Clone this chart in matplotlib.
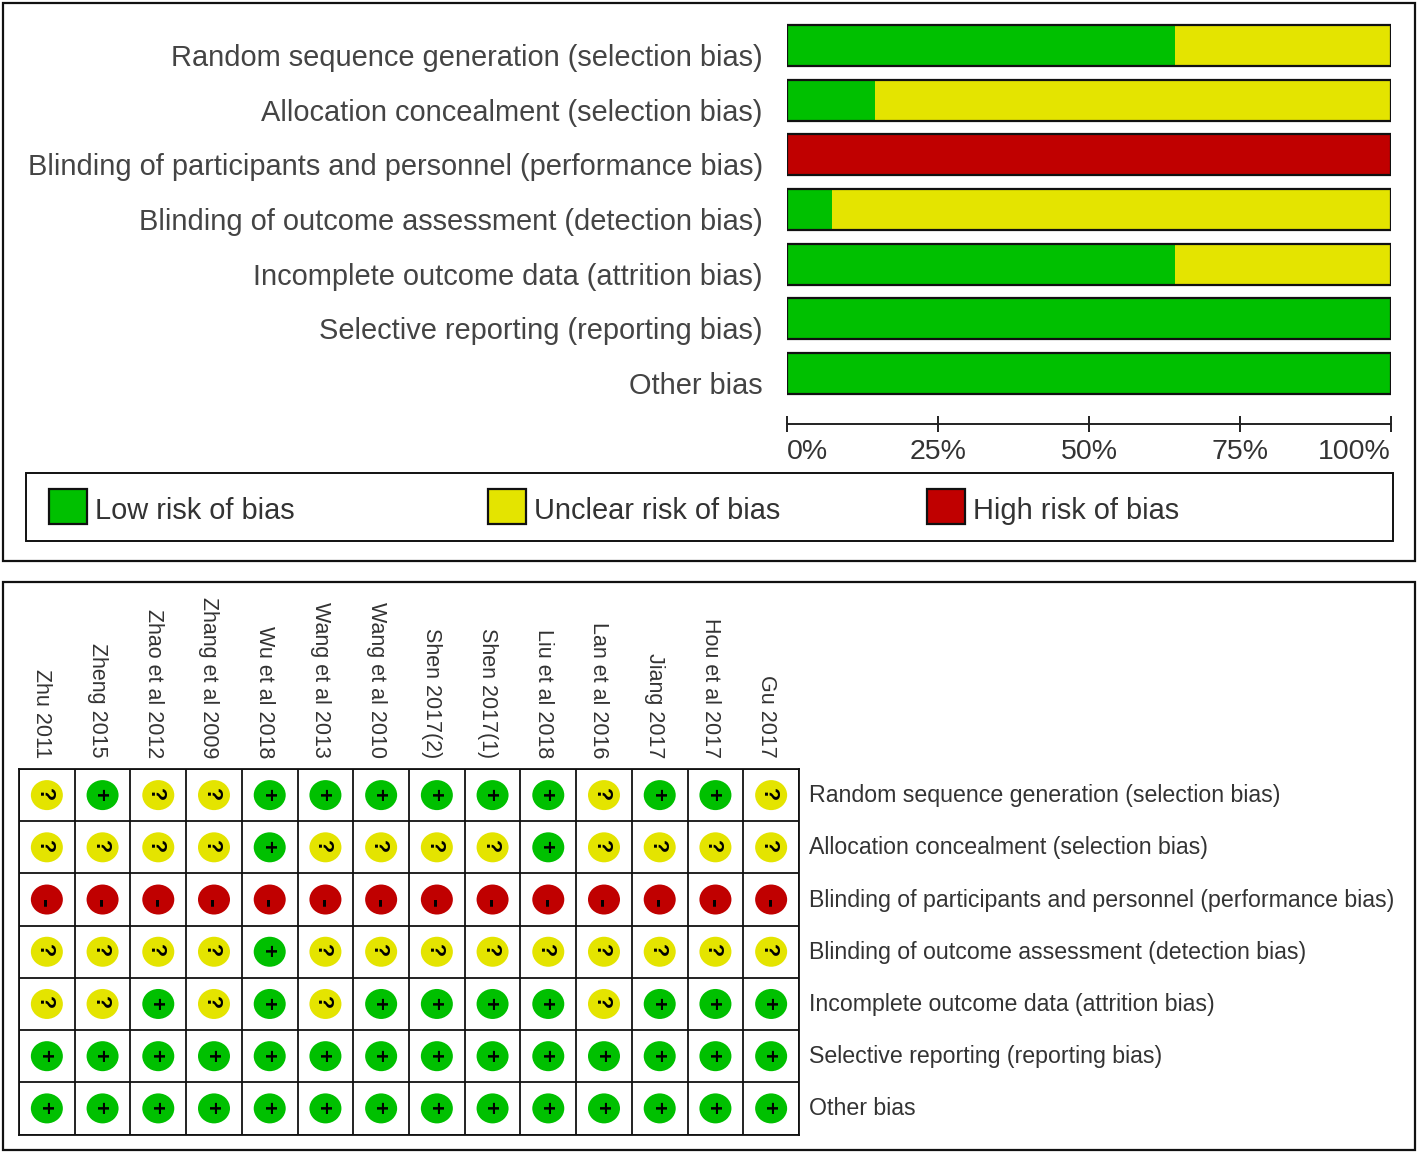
"""Risk of bias graph and summary, rebuilt from a published figure."""

import matplotlib

matplotlib.use("Agg")
import matplotlib.pyplot as plt
from matplotlib.patches import Ellipse, Rectangle
from matplotlib.transforms import ScaledTranslation

W, H = 1418, 1155

plt.rcParams["font.family"] = ["Liberation Sans", "DejaVu Sans"]

domains = [
    "Random sequence generation (selection bias)",
    "Allocation concealment (selection bias)",
    "Blinding of participants and personnel (performance bias)",
    "Blinding of outcome assessment (detection bias)",
    "Incomplete outcome data (attrition bias)",
    "Selective reporting (reporting bias)",
    "Other bias",
]
low = [64.3, 14.6, 0, 7.5, 64.3, 100, 100]
unclear = [35.7, 85.4, 0, 92.5, 35.7, 0, 0]
high = [0, 0, 100, 0, 0, 0, 0]

studies = [
    "Zhu 2011", "Zheng 2015", "Zhao et al 2012", "Zhang et al 2009",
    "Wu et al 2018", "Wang et al 2013", "Wang et al 2010", "Shen 2017(2)",
    "Shen 2017(1)", "Liu et al 2018", "Lan et al 2016", "Jiang 2017",
    "Hou et al 2017", "Gu 2017",
]
# one string per domain, one sign per study
ratings = [
    "?+??++++++?++?",
    "????+????+????",
    "--------------",
    "????+?????????",
    "??+?+?++++?+++",
    "++++++++++++++",
    "++++++++++++++",
]

GREEN, YELLOW, RED = "#00c000", "#e4e400", "#c00000"
SIGN_COLOR = {"+": GREEN, "?": YELLOW, "-": RED}
legend_labels = ["Low risk of bias", "Unclear risk of bias", "High risk of bias"]


def px_axes(fig, left, top, right, bottom):
    return fig.add_axes([left / W, 1 - bottom / H, (right - left) / W, (bottom - top) / H])


def nudge(labels, fig, dx=0, dy=0):
    # move tick labels by screen pixels, +dy is down
    shift = ScaledTranslation(dx / 100, -dy / 100, fig.dpi_scale_trans)
    for lab in labels:
        lab.set_transform(lab.get_transform() + shift)


fig = plt.figure(figsize=(W / 100, H / 100), dpi=100)

# page-level frames and the legend, in pixels
bg = px_axes(fig, 0, 0, W, H)
bg.set_xlim(0, W)
bg.set_ylim(H, 0)
bg.axis("off")
for x, y, w, h, lw in [(3, 3, 1412, 558, 1.6), (3, 582, 1412, 568, 1.6), (26, 473, 1367, 68, 1.4)]:
    bg.add_patch(Rectangle((x, y), w, h, fc="none", ec="#111111", lw=lw))
for x, color, label in zip([49, 488, 927], [GREEN, YELLOW, RED], legend_labels):
    bg.add_patch(Rectangle((x, 489), 38, 35, fc=color, ec="#111111", lw=1.6))
    bg.text(x + 46, 508, label, fontsize=20.9, color="#333333", va="center", ha="left",
            transform=bg.transData + ScaledTranslation(0, -0.03, fig.dpi_scale_trans))

# risk of bias graph
ax = px_axes(fig, 787, 18.2, 1391, 400.8)
ys = list(range(len(domains)))
left = [0] * len(domains)
for vals, color in [(low, GREEN), (unclear, YELLOW), (high, RED)]:
    ax.barh(ys, vals, left=left, height=0.755, color=color, lw=0)
    left = [a + b for a, b in zip(left, vals)]
ax.barh(ys, [100] * len(ys), height=0.755, fc="none", ec="#111111", lw=1.6)
ax.set_xlim(0, 100)
ax.set_ylim(6.5, -0.5)
ax.patch.set_visible(False)
for s in ["top", "left", "right"]:
    ax.spines[s].set_visible(False)
ax.spines["bottom"].set_position(("outward", 16.7))
ax.spines["bottom"].set_linewidth(1.4)
ax.spines["bottom"].set_color("#222222")
ax.set_yticks(ys, domains, fontsize=20.9, color="#444444")
ax.tick_params(axis="y", length=0, pad=17.4)
nudge(ax.get_yticklabels(), fig, dy=9.5)
ax.set_xticks([0, 25, 50, 75, 100], ["0%", "25%", "50%", "75%", "100%"], fontsize=20.5, color="#333333")
ax.tick_params(axis="x", direction="inout", length=11.5, width=1.4, color="#222222", pad=5)
xlabels = ax.get_xticklabels()
xlabels[0].set_ha("left")
xlabels[-1].set_ha("right")

# risk of bias summary
ax2 = px_axes(fig, 19, 769, 799, 1134.5)
ax2.set_xlim(0, len(studies))
ax2.set_ylim(len(domains), 0)
ax2.set_xticks(range(len(studies) + 1), [""] * (len(studies) + 1))
ax2.set_yticks(range(len(domains) + 1), [""] * (len(domains) + 1))
ax2.grid(True, color="#111111", lw=1.3)
ax2.set_axisbelow(True)
ax2.tick_params(which="major", length=0)
for s in ax2.spines.values():
    s.set_linewidth(1.3)
    s.set_color("#111111")

ax2.set_xticks([i + 0.5 for i in range(len(studies))], studies, minor=True)
ax2.set_yticks([i + 0.5 for i in range(len(domains))], domains, minor=True)
ax2.tick_params(which="minor", length=0, top=True, bottom=False, left=False, right=True,
                labeltop=True, labelbottom=False, labelleft=False, labelright=True)
ax2.tick_params(axis="x", which="minor", pad=8, labelsize=15.5, labelcolor="#333333", labelrotation=270)
ax2.tick_params(axis="y", which="minor", pad=7, labelsize=16.7, labelcolor="#333333")
nudge([t.label2 for t in ax2.xaxis.get_minor_ticks()], fig, dx=-5)
nudge([t.label2 for t in ax2.yaxis.get_minor_ticks()], fig, dy=-2)

cell_w = 780 / len(studies)
cell_h = 365.5 / len(domains)
sign_size = {"+": 16, "?": 15.5, "-": 19}
sign_shift_y = {"+": -1, "?": -1, "-": 4}  # pixels, the minus sits low in its disc
for row, line in enumerate(ratings):
    for col, sign in enumerate(line):
        ax2.add_patch(Ellipse((col + 0.5, row + 0.5), 32 / cell_w, 30 / cell_h,
                              fc=SIGN_COLOR[sign], lw=0, zorder=3))
        ax2.text(col + 0.5 - 2.5 / cell_w, row + 0.5 + sign_shift_y[sign] / cell_h, sign,
                 fontsize=sign_size[sign], fontweight="bold", color="black",
                 rotation=270, ha="center", va="center", zorder=4)

fig.savefig("out.png", dpi=100, facecolor="white")
